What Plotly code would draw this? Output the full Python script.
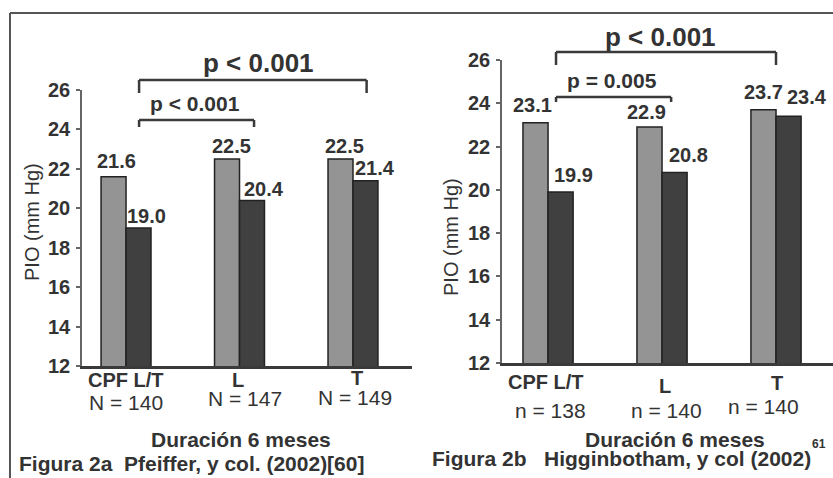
import plotly.graph_objects as go

W, H = 833, 478

# ---------------- data ----------------
categories = ["CPF L/T", "L", "T"]
left_before = [21.6, 22.5, 22.5]
left_after = [19.0, 20.4, 21.4]
left_n = ["N = 140", "N = 147", "N = 149"]
right_before = [23.1, 22.9, 23.7]
right_after = [19.9, 20.8, 23.4]
right_n = ["n = 138", "n = 140", "n = 140"]
y_ticks = [12, 14, 16, 18, 20, 22, 24, 26]
left_p_outer, left_p_inner = "p < 0.001", "p < 0.001"
right_p_outer, right_p_inner = "p < 0.001", "p = 0.005"
subtitle = "Duración 6 meses"
left_caption = "Figura 2a  Pfeiffer, y col. (2002)[60]"
right_caption = "Figura 2b   Higginbotham, y col (2002)"
page_number = "61"
y_title = "PIO (mm Hg)"

FONT = "Liberation Sans, Arial, sans-serif"
LIGHT = "#949494"
DARK = "#404040"
TXT = "#333333"


def px_x(p):
    return p / W


def px_y(p):
    return (H - p) / H


fig = go.Figure()

for before, after, xa, ya in [(left_before, left_after, "x", "y"),
                              (right_before, right_after, "x2", "y2")]:
    fig.add_trace(go.Bar(x=categories, y=before, xaxis=xa, yaxis=ya,
                         marker=dict(color=LIGHT, line=dict(color="#222", width=1.5)),
                         showlegend=False, hoverinfo="skip"))
    fig.add_trace(go.Bar(x=categories, y=after, xaxis=xa, yaxis=ya,
                         marker=dict(color=DARK, line=dict(color="#222", width=1.5)),
                         showlegend=False, hoverinfo="skip"))

ann = []
# value labels (per-label pixel offsets from the bar top)
left_off_b = [(2.5, 16), (4.5, 13), (4.5, 13)]
left_off_a = [(7.5, 12), (11.5, 11), (9.5, 13)]
right_off_b = [(-3.5, 18), (-3.5, 15), (0, 18)]
right_off_a = [(12.5, 17), (13.5, 17.6), (18.5, 19)]
for vals, offs, xa, ya, side in [
    (left_before, left_off_b, "x", "y", -12.5),
    (left_after, left_off_a, "x", "y", 12.5),
    (right_before, right_off_b, "x2", "y2", -12.5),
    (right_after, right_off_a, "x2", "y2", 12.5),
]:
    for i, v in enumerate(vals):
        dx, dy = offs[i]
        ann.append(dict(x=categories[i], y=v, xref=xa, yref=ya, text=f"<b>{v:.1f}</b>",
                        showarrow=False, xshift=side + dx, yshift=dy, yanchor="middle",
                        font=dict(family=FONT, size=20, color=TXT)))


def txt(text, x, y, size, bold=True, xanchor="center", angle=0, color=TXT, xref="paper", xshift=0):
    t = f"<b>{text}</b>" if bold else text
    ann.append(dict(x=px_x(x) if xref == "paper" else x, y=px_y(y), xref=xref, yref="paper",
                    text=t, showarrow=False, xanchor=xanchor, yanchor="middle",
                    textangle=angle, xshift=xshift, borderpad=0,
                    font=dict(family=FONT, size=size, color=color)))


txt(left_p_outer, 258, 63, 26)
txt(left_p_inner, 195, 103, 21)
txt(right_p_outer, 660, 37, 26)
txt(right_p_inner, 612, 80, 21)

# category labels and group sizes
for i, (s, dx, y) in enumerate(zip(left_n, [0, 5, 2], [402, 398, 397])):
    txt(categories[i], categories[i], [380, 380, 378][i], 20, xref="x",
        xshift=[0, -2, 4][i])
    txt(s, categories[i], y, 21, bold=False, xref="x", xshift=dx)
for i, (s, dx, y) in enumerate(zip(right_n, [2, 4, -13], [410, 410, 406])):
    txt(categories[i], categories[i], [382, 386, 383][i], 20, xref="x2",
        xshift=[-2, 3, 1][i])
    txt(s, categories[i], y, 21, bold=False, xref="x2", xshift=dx)

txt(subtitle, 241, 439, 21)
txt(subtitle, 675, 439, 21)
txt(left_caption, 18, 463, 21, xanchor="left")
txt(right_caption, 431, 458, 21, xanchor="left")
txt(page_number, 827, 444, 12, xanchor="right")
txt(y_title, 32, 222, 20, bold=False, angle=-90)
txt(y_title, 451, 237, 20, bold=False, angle=-90)

shapes = []
LINE = dict(color="#3a3a3a", width=2.5)


def bracket(xa, x0, x1, ytop, ybot):
    for (a, b, c, d) in [(x0, ytop, x1, ytop), (x0, ytop, x0, ybot), (x1, ytop, x1, ybot)]:
        shapes.append(dict(type="line", xref=xa, yref="paper", x0=a, x1=c,
                           y0=px_y(b), y1=px_y(d), line=LINE))


bracket("x", 0.115, 2.12, 80, 93)
bracket("x", 0.115, 1.128, 120, 127)
bracket("x2", 0.07, 2.0, 52, 65)
bracket("x2", 0.07, 1.08, 97, 102)

# outer frame (left and top edges)
shapes.append(dict(type="line", xref="paper", yref="paper", x0=px_x(10), x1=px_x(10),
                   y0=0, y1=px_y(13), line=dict(color="#555", width=2)))
shapes.append(dict(type="line", xref="paper", yref="paper", x0=px_x(10), x1=1,
                   y0=px_y(13), y1=px_y(13), line=dict(color="#555", width=2)))

xcommon = dict(type="category", showgrid=False, zeroline=False, ticks="",
               showticklabels=False, showline=True, linecolor="#3a3a3a", linewidth=2.5,
               automargin=False)
ycommon = dict(showgrid=False, zeroline=False, ticks="outside", ticklen=4,
               tickcolor="#666", tickwidth=1.5, showline=True, linecolor="#666",
               linewidth=1.5, tickvals=y_ticks, ticklabelstandoff=2, automargin=False,
               tickfont=dict(family=FONT, size=20, color=TXT, weight="bold"))

fig.update_layout(
    width=W, height=H, autosize=False,
    margin=dict(l=0, r=0, t=0, b=0, pad=0, autoexpand=False),
    paper_bgcolor="white", plot_bgcolor="rgba(0,0,0,0)",
    barmode="group", bargap=0.56, bargroupgap=0,
    xaxis=dict(xcommon, domain=[px_x(82), px_x(412)], range=[-0.388, 2.52], anchor="y"),
    yaxis=dict(ycommon, domain=[px_y(366), px_y(90)], range=[12, 26], anchor="x"),
    xaxis2=dict(xcommon, domain=[px_x(502), 1], range=[-0.404, 2.5], anchor="y2"),
    yaxis2=dict(ycommon, domain=[px_y(363), px_y(60)], range=[12, 26], anchor="x2"),
    annotations=ann, shapes=shapes, showlegend=False,
)

fig.write_html(
    "out.html",
    config={"displayModeBar": False},
    post_script="document.body.style.margin='0';document.body.style.overflow='hidden';",
)
